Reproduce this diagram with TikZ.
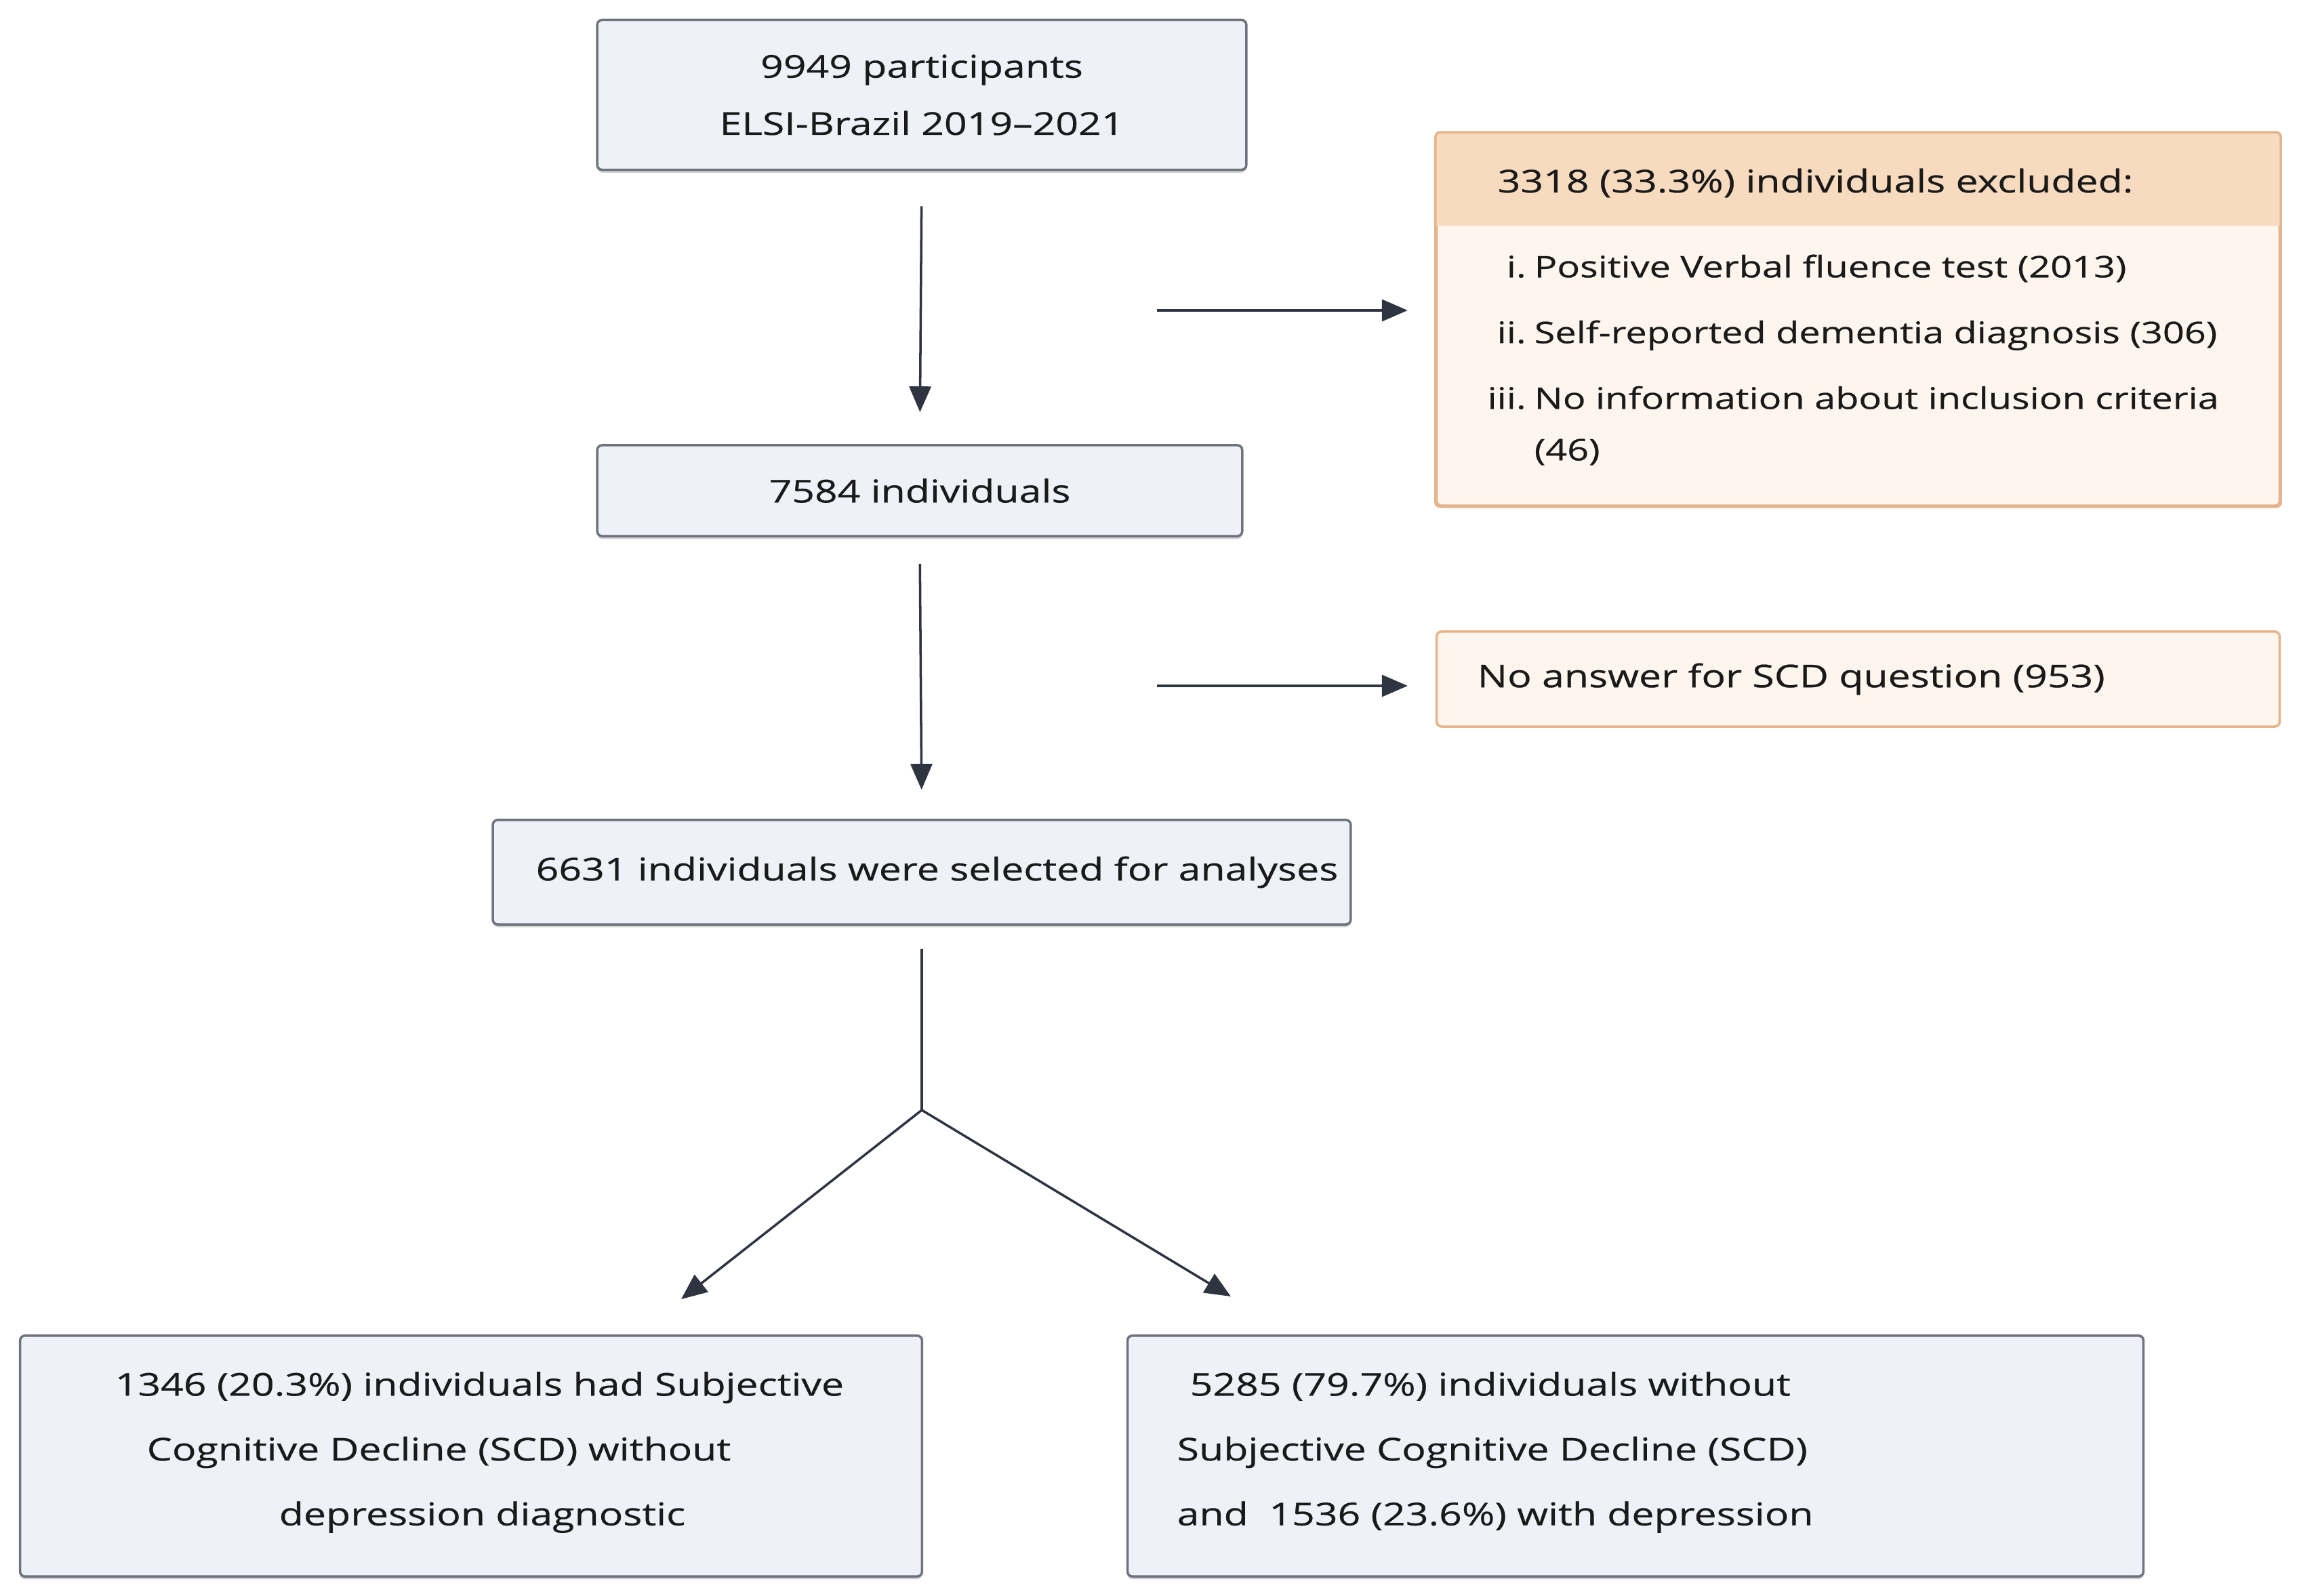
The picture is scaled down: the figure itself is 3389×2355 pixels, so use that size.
\documentclass[tikz,border=0pt]{standalone}
\usepackage{fontspec}
\setmainfont{Open Sans}[FakeStretch=1.27,FakeBold=0.5]
\usetikzlibrary{arrows.meta,shadows,calc}
\definecolor{bluefill}{HTML}{EEF1F8}
\definecolor{blueline}{HTML}{6E737C}
\definecolor{orfill}{HTML}{FEF6EE}
\definecolor{orhead}{HTML}{F8DBBF}
\definecolor{orline}{HTML}{E6B48A}
\definecolor{arrowc}{HTML}{2E3440}
\definecolor{txt}{HTML}{1A1A1A}
\begin{document}
\begin{tikzpicture}[x=0.01cm,y=-0.01cm,
  bluebox/.style={draw=blueline, fill=bluefill, line width=1pt, rounded corners=2pt, inner sep=0pt,
    drop shadow={shadow xshift=0pt, shadow yshift=-1.2pt, opacity=0.35}},
  orbox/.style={draw=orline, fill=orfill, line width=1pt, rounded corners=2pt, inner sep=0pt},
  txtstyle/.style={text=txt, font=\fontsize{13.2}{24}\selectfont, align=center},
  bigtxt/.style={text=txt, font=\fontsize{13.2}{27.2}\selectfont, align=left, inner sep=0pt},
  arr/.style={draw=arrowc, line width=1pt, -{Triangle[length=3.8mm,width=3.2mm]}},
  ]
\useasboundingbox[fill=white] (0,0) rectangle (3389,2355);

% main boxes
\node[bluebox, minimum width=9.57cm, minimum height=2.21cm, txtstyle] (top) at (1360,140)
  {9949 participants\\ELSI-Brazil 2019--2021};
\node[bluebox, minimum width=9.51cm, minimum height=1.34cm, txtstyle] (b2) at (1357,724)
  {7584 individuals};
\node[bluebox, minimum width=12.65cm, minimum height=1.54cm, txtstyle] (b3) at (1360,1287)
  {\hspace*{0.45cm}6631 individuals were selected for analyses};

% excluded box
\node[orbox, minimum width=12.43cm, minimum height=5.49cm] (excl) at (2741.5,471.5) {};
\coordinate (hb) at (0,333);
\begin{scope}
  \clip[rounded corners=2pt] (excl.north west) rectangle (excl.south east);
  \fill[orhead] (excl.north west) rectangle (excl.east |- hb);
\end{scope}
\draw[orline, line width=1pt, rounded corners=2pt] (excl.north west) rectangle (excl.south east);
\node[txtstyle, anchor=west, inner sep=0pt] (exh) at (2209,270) {3318 (33.3\%) individuals excluded:};
\node[text=txt, font=\fontsize{12.5}{21.6}\selectfont, align=left, inner sep=0pt, anchor=west] (exl) at (2187,531)
  {\makebox[0.64cm][r]{i.}\hspace{0.12cm}Positive Verbal fluence test (2013)\\[6pt]
   \makebox[0.64cm][r]{ii.}\hspace{0.12cm}Self-reported dementia diagnosis (306)\\[6pt]
   \makebox[0.64cm][r]{iii.}\hspace{0.12cm}No information about inclusion criteria\\
   \hspace*{0.76cm}(46)};

% no answer box
\node[orbox, minimum width=12.43cm, minimum height=1.40cm] (noans) at (2741.5,1002) {};
\node[txtstyle, anchor=west, inner sep=0pt] (noanst) at (2179,1002) {No answer for SCD question (953)};

% bottom boxes
\node[bluebox, minimum width=13.30cm, minimum height=3.55cm] (bl) at (695,2148.5) {};
\node[bigtxt, anchor=west] (blt) at (169,2143)
  {1346 (20.3\%) individuals had Subjective\\
   \hspace*{0.47cm}Cognitive Decline (SCD) without\\
   \hspace*{2.42cm}depression diagnostic};
\node[bluebox, minimum width=14.98cm, minimum height=3.55cm] (br) at (2413,2148.5) {};
\node[bigtxt, anchor=west] (brt) at (1736,2143)
  {\hspace*{0.19cm}5285 (79.7\%) individuals without\\
   Subjective Cognitive Decline (SCD)\\
   and\ \ 1536 (23.6\%) with depression};

% connectors
\draw[arr, shorten <=0.52cm, shorten >=0.47cm] (top.south) -- (b2.north);
\draw[arr, shorten <=0.39cm, shorten >=0.43cm] (b2.south) -- (b3.north);
\coordinate (r1) at (1707,458);
\coordinate (r2) at (1707,1012);
\draw[arr, shorten >=0.41cm] (r1) -- (excl.west |- r1);
\draw[arr, shorten >=0.41cm] (r2) -- (noans.west |- r2);
\coordinate (split) at (1360,1638);
\coordinate (tl) at (1005,1917);
\coordinate (tr) at (1816,1913);
\draw[draw=arrowc, line width=1pt, shorten <=0.34cm] (b3.south) -- (split);
\draw[arr] (split) -- (tl);
\draw[arr] (split) -- (tr);
\end{tikzpicture}
\end{document}
